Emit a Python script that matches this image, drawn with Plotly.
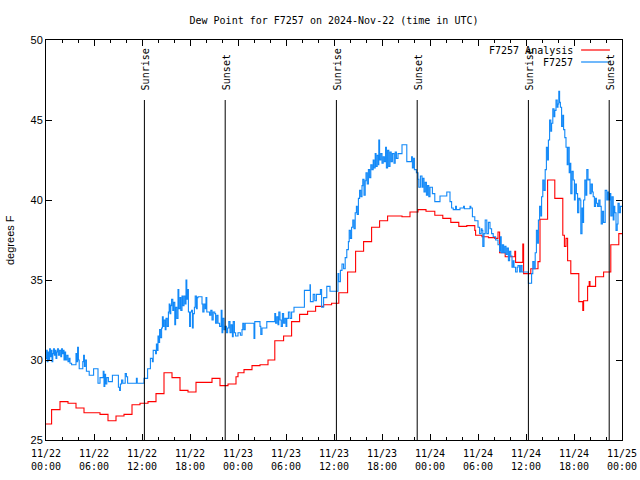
import pandas as pd
import plotly.graph_objects as go

# ---------------- data ----------------
start_time = "2024-11-22 00:00"

analysis_hours = [0, 0.7, 1.75, 2.75, 3.75, 4.75, 6.75, 7.75, 8.75, 9.75,
                  10.75, 11.75, 12.75, 13.75, 14.75, 15.75, 16.75, 17.75, 18.75, 20.75,
                  21.75, 22.75, 23.75, 24.0, 24.75, 25.75, 26.75, 27.75, 28.6, 29.7,
                  30.7, 31.7, 32.7, 33.7, 34.7, 35.7, 36.6, 37.7, 38.7, 39.7,
                  40.7, 41.7, 42.7, 44.5, 45.5, 46.5, 47.5, 48.6, 49.6, 50.6,
                  51.6, 52.6, 53.6, 53.7, 54.5, 55.3, 56.1, 56.5, 56.7, 57.4,
                  58.6, 58.7, 59.6, 59.7, 60.6, 61.5, 61.75, 62.7, 63.6, 64.6,
                  64.8, 65.0, 65.2, 65.6, 66.6, 67.1, 67.2, 67.7, 67.9, 68.0,
                  68.7, 69.7, 70.6, 71.6, 72.0]
analysis_dewpt = [26.0, 26.9, 27.4, 27.3, 27.0, 26.7, 26.6, 26.2, 26.5, 26.6,
                  27.2, 27.3, 27.4, 27.9, 29.2, 28.9, 28.1, 28.0, 28.6, 28.85,
                  28.4, 28.5, 28.95, 29.2, 29.4, 29.65, 29.7, 30.0, 31.2, 31.5,
                  32.4, 32.85, 33.05, 33.35, 33.45, 33.55, 34.2, 35.5, 36.8, 37.4,
                  38.3, 38.7, 39.0, 38.95, 39.25, 39.4, 39.3, 39.05, 38.85, 38.6,
                  38.35, 38.4, 38.1, 37.8, 37.7, 37.65, 37.6, 38.0, 36.7, 36.45,
                  36.8, 36.1, 37.25, 35.4, 35.7, 36.15, 38.8, 41.25, 40.1, 37.8,
                  37.1, 37.6, 36.2, 35.4, 33.65, 33.1, 33.7, 34.6, 34.9, 34.6,
                  35.2, 35.5, 37.2, 37.9, 37.9]

obs_hours = [
    0.00, 0.08, 0.15, 0.25, 0.35, 0.45, 0.55, 0.65, 0.75, 0.85,
    0.95, 1.05, 1.15, 1.25, 1.35, 1.45, 1.55, 1.70, 1.85, 1.95,
    2.05, 2.15, 2.25, 2.35, 2.45, 2.60, 2.75, 2.90, 3.00, 3.20,
    3.75, 3.85, 3.95, 4.05, 4.15, 4.60, 4.70, 4.80, 4.90, 5.05,
    5.40, 5.95, 6.50, 6.75, 7.15, 7.25, 7.35, 7.45, 7.60, 7.80,
    8.30, 9.05, 9.20, 9.30, 9.45, 9.60, 9.90, 10.05, 10.20, 11.30,
    11.40, 12.25, 12.70, 13.05, 13.30, 13.40, 13.70, 13.80, 13.90, 14.00,
    14.10, 14.20, 14.30, 14.45, 14.55, 14.65, 14.75, 14.90, 15.00, 15.15,
    15.30, 15.40, 15.50, 15.60, 15.70, 15.85, 15.95, 16.10, 16.20, 16.35,
    16.50, 16.60, 16.75, 16.85, 17.00, 17.10, 17.25, 17.40, 17.50, 17.60,
    17.70, 17.80, 17.95, 18.05, 18.20, 18.30, 18.40, 18.55, 18.65, 18.80,
    18.90, 19.00, 19.50, 19.60, 19.75, 19.90, 20.00, 20.10, 20.30, 20.45,
    20.60, 20.75, 20.90, 21.10, 21.20, 21.35, 21.50, 21.70, 21.90, 22.00,
    22.10, 22.25, 22.40, 22.55, 22.70, 22.85, 23.00, 23.15, 23.30, 23.40,
    23.55, 23.70, 24.00, 24.30, 24.50, 24.60, 24.75, 24.90, 26.00, 26.10,
    26.75, 26.85, 27.00, 27.60, 28.60, 28.70, 28.85, 29.00, 29.10, 29.25,
    29.40, 29.55, 29.70, 29.85, 30.00, 30.10, 30.30, 30.50, 30.70, 31.00,
    32.30, 33.00, 33.05, 33.40, 33.60, 33.80, 34.30, 34.45, 34.70, 35.10,
    35.50, 36.50, 36.60, 36.80, 37.00, 37.20, 37.40, 37.60, 37.80, 37.90,
    38.05, 38.20, 38.35, 38.50, 38.65, 38.80, 38.90, 39.05, 39.20, 39.35,
    39.50, 39.60, 39.75, 39.90, 40.00, 40.15, 40.30, 40.45, 40.60, 40.75,
    40.90, 41.00, 41.15, 41.25, 41.40, 41.55, 41.60, 41.70, 41.85, 42.00,
    42.15, 42.30, 42.45, 42.55, 42.70, 42.85, 43.00, 43.15, 43.30, 43.50,
    43.65, 43.80, 44.00, 44.50, 45.10, 45.70, 45.80, 45.95, 46.05, 46.30,
    46.50, 46.60, 46.80, 47.00, 47.10, 47.25, 47.40, 47.55, 47.70, 47.85,
    48.00, 48.30, 48.60, 49.25, 50.10, 50.50, 50.70, 50.90, 51.20, 51.30,
    51.75, 52.20, 52.30, 53.00, 53.10, 53.30, 53.60, 54.00, 54.20, 54.40,
    54.50, 54.60, 54.75, 54.90, 55.10, 55.30, 55.50, 55.70, 55.90, 56.20,
    56.50, 56.70, 56.80, 56.90, 57.05, 57.20, 57.35, 57.50, 57.65, 57.80,
    57.95, 58.10, 58.25, 58.40, 58.50, 58.70, 58.90, 59.00, 59.20, 59.35,
    59.50, 60.30, 60.70, 60.85, 61.00, 61.15, 61.30, 61.45, 61.55, 61.70,
    61.85, 61.95, 62.10, 62.25, 62.40, 62.55, 62.70, 62.80, 62.95, 63.10,
    63.20, 63.35, 63.50, 63.60, 63.75, 63.90, 64.00, 64.10, 64.20, 64.30,
    64.45, 64.60, 64.70, 64.85, 65.00, 65.15, 65.25, 65.40, 65.50, 65.60,
    65.75, 65.90, 66.05, 66.15, 66.30, 66.45, 66.60, 66.75, 66.85, 67.00,
    67.10, 67.20, 67.35, 67.50, 67.60, 67.75, 67.90, 68.00, 68.15, 68.30,
    68.40, 68.55, 68.70, 68.80, 68.95, 69.10, 69.25, 69.40, 69.55, 69.70,
    69.90, 70.10, 70.20, 70.35, 70.50, 70.60, 70.75, 70.90, 71.00, 71.10,
    71.25, 71.40, 71.50, 71.65, 71.80, 72.00]
obs_dewpt = [
    30.1, 30.6, 29.9, 30.5, 30.0, 30.7, 30.2, 30.6, 29.9, 30.4,
    30.7, 30.3, 30.6, 30.1, 30.5, 30.7, 30.3, 30.6, 30.2, 30.7,
    30.4, 30.6, 30.0, 30.5, 30.0, 30.3, 29.9, 30.1, 29.8, 29.7,
    30.4, 29.9, 30.8, 30.0, 29.45, 29.9, 30.3, 29.6, 30.0, 29.3,
    29.05, 29.45, 28.55, 28.9, 29.3, 28.35, 29.1, 28.5, 28.9, 28.65,
    29.05, 28.3, 28.1, 28.5, 28.75, 28.55, 29.15, 28.95, 28.55, 28.85,
    28.55, 28.85, 29.45, 30.1, 29.9, 30.6, 30.4, 31.0, 30.6, 31.5,
    31.1, 31.9, 31.4, 32.0, 32.7, 32.1, 32.5, 31.9, 32.6, 32.1,
    33.0, 33.5, 32.9, 33.4, 33.8, 33.1, 33.6, 32.2, 33.3, 32.6,
    34.4, 33.2, 33.9, 33.1, 34.0, 33.4, 34.0, 33.5, 35.0, 33.8,
    34.4, 33.0, 32.1, 33.0, 33.1, 32.0, 32.9, 33.3, 34.0, 33.2,
    33.9, 33.95, 33.5, 33.0, 33.5, 33.2, 33.9, 33.0, 33.0, 32.8,
    33.1, 32.5, 33.0, 32.9, 32.3, 32.8, 32.3, 32.1, 33.1, 31.7,
    32.6, 31.9, 32.1, 31.7, 32.0, 32.4, 31.7, 32.2, 31.45, 32.4,
    31.7, 31.5, 31.7, 31.55, 31.9, 32.3, 31.9, 32.3, 31.35, 32.4,
    32.1, 31.6, 32.0, 32.4, 32.9, 32.3, 32.7, 32.2, 33.0, 32.5,
    32.1, 32.9, 32.3, 32.6, 32.1, 32.6, 33.0, 32.6, 33.0, 33.3,
    34.35, 34.7, 33.65, 34.1, 33.7, 34.1, 34.4, 33.3, 33.9, 34.6,
    34.3, 35.4, 34.9, 35.6, 36.0, 35.7, 36.4, 36.9, 37.4, 38.1,
    37.6, 38.3, 38.75, 38.2, 39.2, 39.6, 39.1, 40.1, 40.6, 40.2,
    40.9, 41.3, 40.3, 41.2, 41.7, 41.0, 41.9, 41.4, 42.2, 41.9,
    42.5, 42.0, 42.9, 42.1, 42.8, 42.2, 43.75, 42.5, 42.9, 42.3,
    42.7, 42.4, 43.3, 42.0, 43.1, 42.1, 43.0, 42.4, 42.9, 42.3,
    43.0, 42.6, 42.9, 43.45, 42.4, 42.7, 42.0, 42.6, 41.9, 41.7,
    41.3, 40.8, 41.5, 40.8, 41.35, 40.5, 41.1, 40.3, 40.9, 40.2,
    40.8, 40.4, 39.9, 40.25, 40.5, 39.9, 39.5, 39.4, 39.6, 39.4,
    39.5, 39.6, 39.45, 39.6, 39.5, 38.95, 38.7, 38.3, 37.9, 38.2,
    38.1, 37.1, 37.9, 38.75, 37.9, 38.6, 38.2, 37.9, 37.7, 37.5,
    37.2, 36.8, 37.7, 36.7, 37.2, 36.7, 37.1, 36.6, 37.0, 36.2,
    36.8, 36.5, 35.8, 36.2, 35.8, 35.5, 35.8, 35.9, 35.5, 35.9,
    35.5, 34.8, 35.4, 36.15, 35.7, 36.7, 38.1, 37.3, 38.75, 39.6,
    39.0, 40.2, 41.25, 40.6, 41.9, 43.3, 42.5, 43.75, 45.0, 44.3,
    44.8, 45.7, 45.2, 45.6, 46.25, 45.8, 46.0, 46.8, 46.1, 45.8,
    44.6, 45.3, 44.4, 43.9, 43.3, 42.2, 43.3, 41.7, 42.3, 40.4,
    41.8, 41.25, 40.0, 41.0, 40.4, 39.2, 40.1, 40.0, 37.9, 39.5,
    38.6, 40.0, 41.25, 40.3, 41.9, 41.25, 41.3, 40.4, 41.0, 40.5,
    40.2, 39.6, 40.1, 39.8, 39.6, 40.0, 39.6, 38.5, 39.3, 38.6,
    40.6, 40.0, 40.5, 40.0, 40.4, 39.0, 40.2, 38.75, 39.6, 39.2,
    38.1, 38.5, 39.8, 39.2, 39.6, 39.6]

sunrise_hours = [12.3, 36.3, 60.3]
sunset_hours = [22.4, 46.4, 70.4]

tick_hours = [0, 6, 12, 18, 24, 30, 36, 42, 48, 54, 60, 66, 72]
tick_labels = ["11/22<br>00:00", "11/22<br>06:00", "11/22<br>12:00", "11/22<br>18:00",
               "11/23<br>00:00", "11/23<br>06:00", "11/23<br>12:00", "11/23<br>18:00",
               "11/24<br>00:00", "11/24<br>06:00", "11/24<br>12:00", "11/24<br>18:00",
               "11/25<br>00:00"]

title_text = "Dew Point for F7257 on 2024-Nov-22 (time in UTC)"
y_title = "degrees F"
series_names = ["F7257 Analysis", "F7257"]
y_range = [25, 50]

# ---------------- figure ----------------
t0 = pd.Timestamp(start_time)


def to_time(hours):
    return [t0 + pd.Timedelta(hours=h) for h in hours]


RED = "#ff0000"
BLUE = "#1088f8"
MONO = "DejaVu Sans Mono"
SANS = "Liberation Sans"

fig = go.Figure()
fig.add_trace(go.Scatter(x=to_time(analysis_hours), y=analysis_dewpt, mode="lines",
                         line=dict(color=RED, width=1.1, shape="hv"),
                         name=series_names[0], showlegend=False))
fig.add_trace(go.Scatter(x=to_time(obs_hours), y=obs_dewpt, mode="lines",
                         line=dict(color=BLUE, width=1.1, shape="hv"),
                         name=series_names[1], showlegend=False))

label_top_y = 46.75
for hours, label in [(sunrise_hours, "Sunrise"), (sunset_hours, "Sunset")]:
    for h in hours:
        tx = t0 + pd.Timedelta(hours=h)
        fig.add_shape(type="line", xref="x", yref="y", x0=tx, x1=tx, y0=y_range[0], y1=46.25,
                      line=dict(color="black", width=1))
        fig.add_annotation(x=tx, y=label_top_y, xref="x", yref="y", text=label,
                           textangle=-90, showarrow=False, xanchor="center", yanchor="bottom",
                           xshift=1, font=dict(family=MONO, size=10, color="black"))

# manual legend (text then line sample, gnuplot style)
leg_y = [0.975, 0.945]
for name, color, ly in zip(series_names, [RED, BLUE], leg_y):
    fig.add_annotation(x=0.919, y=ly, xref="paper", yref="paper", text=name, showarrow=False,
                       xanchor="right", yanchor="middle",
                       font=dict(family=MONO, size=10, color="black"))
    fig.add_shape(type="line", xref="paper", yref="paper", x0=0.929, x1=0.979, y0=ly, y1=ly,
                  line=dict(color=color, width=1.2))

fig.add_annotation(x=-0.0625, y=0.5, xref="paper", yref="paper", text=y_title, textangle=-90,
                   showarrow=False, xanchor="center", yanchor="middle",
                   font=dict(family=SANS, size=11, color="black"))

fig.update_layout(
    width=640, height=480,
    margin=dict(l=46, r=18, t=40, b=40, autoexpand=False),
    paper_bgcolor="white", plot_bgcolor="white",
    title=dict(text=title_text, x=0.5, xref="paper", y=1 - 20 / 480, yref="container",
               xanchor="center", yanchor="middle",
               font=dict(family=MONO, size=10, color="black")),
    showlegend=False,
    xaxis=dict(
        automargin=False,
        range=[t0, t0 + pd.Timedelta(hours=72)],
        tickmode="array", tickvals=to_time(tick_hours), ticktext=tick_labels,
        ticks="inside", ticklen=6, tickcolor="black", tickwidth=1,
        ticklabelstandoff=4,
        showline=True, linecolor="black", linewidth=1, mirror="ticks",
        showgrid=False, zeroline=False,
        tickfont=dict(family=MONO, size=10, color="black"),
        minor=dict(dtick=2 * 3600 * 1000, tick0=t0, ticks="inside", ticklen=3,
                   tickcolor="black", showgrid=False),
    ),
    yaxis=dict(
        automargin=False,
        range=y_range, dtick=5, tick0=25,
        ticks="inside", ticklen=6, tickcolor="black", tickwidth=1,
        showline=True, linecolor="black", linewidth=1, mirror="ticks",
        showgrid=False, zeroline=False,
        tickfont=dict(family=SANS, size=11, color="black"),
    ),
)

fig.write_html("out.html", config={"displayModeBar": False},
               post_script="document.body.style.margin='0';")
